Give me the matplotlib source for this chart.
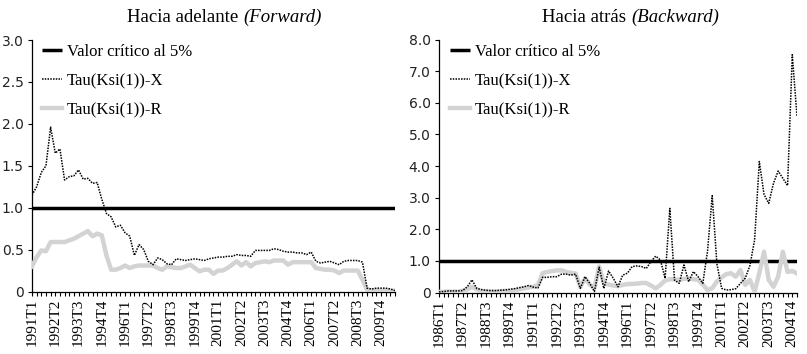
import numpy as np
import matplotlib
matplotlib.use("Agg")
import matplotlib.pyplot as plt

# Hacia adelante (Forward): 1991T1 .. 2010T3, quarterly
fwd_x = [1.15, 1.25, 1.42, 1.50, 1.96, 1.65, 1.70, 1.33, 1.37, 1.38,
         1.45, 1.34, 1.35, 1.29, 1.30, 1.10, 0.93, 0.89, 0.77, 0.79,
         0.70, 0.66, 0.43, 0.56, 0.50, 0.36, 0.32, 0.40, 0.38, 0.33,
         0.32, 0.39, 0.38, 0.37, 0.38, 0.39, 0.38, 0.37, 0.39, 0.40,
         0.41, 0.41, 0.42, 0.42, 0.44, 0.43, 0.43, 0.42, 0.49, 0.49,
         0.49, 0.49, 0.51, 0.50, 0.48, 0.47, 0.47, 0.46, 0.46, 0.44,
         0.47, 0.36, 0.34, 0.35, 0.36, 0.34, 0.32, 0.36, 0.37, 0.37,
         0.37, 0.35, 0.04, 0.03, 0.04, 0.04, 0.04, 0.03, 0.01]
fwd_r = [0.30, 0.41, 0.49, 0.48, 0.59, 0.59, 0.59, 0.59, 0.61, 0.63,
         0.66, 0.69, 0.72, 0.66, 0.69, 0.67, 0.43, 0.26, 0.26, 0.28,
         0.31, 0.28, 0.30, 0.31, 0.31, 0.31, 0.31, 0.28, 0.26, 0.30,
         0.29, 0.28, 0.28, 0.30, 0.32, 0.28, 0.24, 0.26, 0.26, 0.21,
         0.25, 0.25, 0.28, 0.32, 0.36, 0.31, 0.35, 0.30, 0.34, 0.35,
         0.36, 0.35, 0.37, 0.37, 0.37, 0.32, 0.35, 0.35, 0.35, 0.35,
         0.35, 0.28, 0.27, 0.26, 0.26, 0.25, 0.22, 0.25, 0.25, 0.25,
         0.25, 0.14, 0.02, 0.01, 0.01, 0.01, 0.01, 0.01, 0.01]
fwd_ticks = ['1991T1', '1992T2', '1993T3', '1994T4', '1996T1', '1997T2',
             '1998T3', '1999T4', '2001T1', '2002T2', '2003T3', '2004T4',
             '2006T1', '2007T2', '2008T3', '2009T4']

# Hacia atrás (Backward): 1986T1 .. 2005T1, quarterly
bwd_x = [0.02, 0.03, 0.05, 0.05, 0.05, 0.06, 0.18, 0.40, 0.13, 0.09,
         0.07, 0.06, 0.06, 0.07, 0.08, 0.10, 0.12, 0.15, 0.18, 0.22,
         0.17, 0.14, 0.48, 0.48, 0.50, 0.50, 0.58, 0.58, 0.55, 0.58,
         0.13, 0.50, 0.29, 0.03, 0.80, 0.13, 0.68, 0.45, 0.18, 0.55,
         0.61, 0.82, 0.84, 0.82, 0.76, 0.98, 1.15, 1.03, 0.45, 2.66,
         0.39, 0.29, 0.87, 0.34, 0.66, 0.50, 0.29, 1.30, 3.06, 0.90,
         0.13, 0.08, 0.09, 0.12, 0.29, 0.45, 0.85, 1.66, 4.14, 3.10,
         2.82, 3.45, 3.84, 3.61, 3.38, 7.52, 5.56]
bwd_r = [0.02, 0.02, 0.03, 0.03, 0.03, 0.05, 0.10, 0.18, 0.10, 0.05,
         0.04, 0.03, 0.03, 0.04, 0.05, 0.05, 0.06, 0.10, 0.13, 0.16,
         0.18, 0.24, 0.61, 0.65, 0.68, 0.70, 0.70, 0.65, 0.62, 0.60,
         0.18, 0.45, 0.25, 0.15, 0.82, 0.29, 0.25, 0.22, 0.20, 0.24,
         0.27, 0.27, 0.28, 0.30, 0.30, 0.22, 0.13, 0.24, 0.38, 0.42,
         0.42, 0.40, 0.43, 0.45, 0.42, 0.40, 0.25, 0.08, 0.13, 0.35,
         0.48, 0.58, 0.61, 0.50, 0.71, 0.24, 0.40, 0.03, 0.61, 1.29,
         0.40, 0.18, 0.50, 1.29, 0.65, 0.68, 0.60]
bwd_ticks = ['1986T1', '1987T2', '1988T3', '1989T4', '1991T1', '1992T2',
             '1993T3', '1994T4', '1996T1', '1997T2', '1998T3', '1999T4',
             '2001T1', '2002T2', '2003T3', '2004T4']

critical = 1.0

serif = 'Liberation Serif'
sans = 'DejaVu Sans'

fig = plt.figure(figsize=(8.07, 3.54), dpi=100)
ax1 = fig.add_axes([32 / 807, 1 - 291.5 / 354, 363 / 807, 251.5 / 354])
ax2 = fig.add_axes([439 / 807, 1 - 292.5 / 354, 358 / 807, 253 / 354])


def draw(ax, xs, rs, ticks, ymax, yticks, ylabels, anchor):
    n = len(xs)
    idx = np.arange(n)
    ax.plot(idx, np.full(n, critical), color='black', lw=2.5,
            solid_capstyle='butt', label='Valor crítico al 5%', zorder=2)
    ax.plot(idx, xs, color='black', lw=1.1, ls=(0, (1, 0.8)),
            label='Tau(Ksi(1))-X', zorder=4)
    ax.plot(idx, rs, color='#d3d3d3', lw=3.2, label='Tau(Ksi(1))-R', zorder=3)
    ax.set_xlim(0, n - 1)
    ax.set_ylim(0, ymax)
    ax.set_yticks(yticks)
    ax.set_yticklabels(ylabels, fontfamily=sans, fontsize=10, color='#222222')
    ax.set_xticks(np.arange(0, n), minor=True)
    ax.set_xticks(np.arange(0, 5 * len(ticks), 5))
    ax.set_xticklabels(ticks, rotation=90, fontfamily=serif, fontsize=11)
    ax.tick_params(axis='x', which='both', length=3, width=0.8, direction='out', pad=2)
    ax.tick_params(axis='y', length=3, width=0.8, pad=3)
    for s in ['top', 'right']:
        ax.spines[s].set_visible(False)
    for s in ['left', 'bottom']:
        ax.spines[s].set_linewidth(0.9)
    ax.legend(loc='upper left', frameon=False, prop={'family': serif, 'size': 12},
              handlelength=1.2, handletextpad=0.3, labelspacing=0.78,
              borderpad=0.0, borderaxespad=0.0, bbox_to_anchor=anchor)


draw(ax1, fwd_x, fwd_r, fwd_ticks, 3.0, [0, 0.5, 1.0, 1.5, 2.0, 2.5, 3.0],
     ['0', '0.5', '1.0', '1.5', '2.0', '2.5', '3.0'], (0.028, 0.984))
draw(ax2, bwd_x, bwd_r, bwd_ticks, 8.0, [0, 1, 2, 3, 4, 5, 6, 7, 8],
     ['0', '1.0', '2.0', '3.0', '4.0', '5.0', '6.0', '7.0', '8.0'], (0.031, 0.982))

# titles: regular part + italic part
ty = 1 - 17 / 354
fig.text(243 / 807, ty, 'Hacia adelante ', ha='right', va='center',
         fontfamily=serif, fontsize=13.5)
fig.text(243 / 807, ty, '(Forward)', ha='left', va='center',
         fontfamily=serif, fontsize=13.5, style='italic')
fig.text(631 / 807, ty, 'Hacia atrás ', ha='right', va='center',
         fontfamily=serif, fontsize=13.5)
fig.text(631 / 807, ty, '(Backward)', ha='left', va='center',
         fontfamily=serif, fontsize=13.5, style='italic')

fig.savefig('out.png', dpi=100)
